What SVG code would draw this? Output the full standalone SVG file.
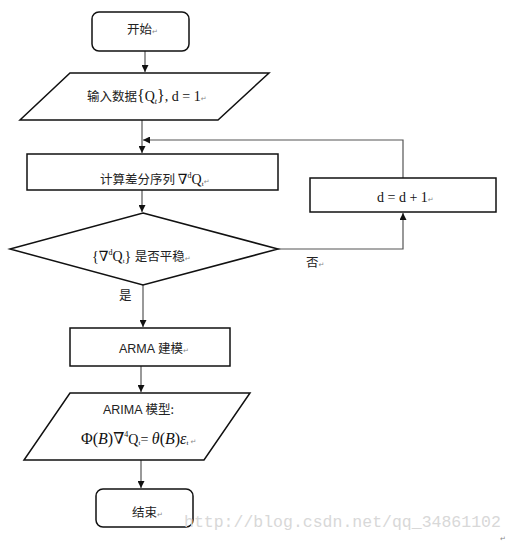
<svg xmlns="http://www.w3.org/2000/svg" width="515" height="545" viewBox="0 0 515 545">
<defs>
<style>
.box{fill:#fff;stroke:#111;stroke-width:1.5}
.con{fill:none;stroke:#555;stroke-width:1.2}
.cn{font-family:"Noto Sans CJK SC","Liberation Serif",serif;font-size:12.5px;fill:#222}
.m{font-family:"Liberation Serif","DejaVu Serif","Noto Sans CJK SC",serif;font-size:14px;fill:#111}
.s{font-family:"Liberation Sans","Noto Sans CJK SC",sans-serif;font-size:12.5px;fill:#222}
.sup{font-size:8px}
.sub{font-size:7px}
.big{font-size:16px}
.it{font-style:italic}
.rt{font-family:"DejaVu Sans",sans-serif;font-size:7px;fill:#888}
.wm{font-family:"Liberation Mono",monospace;font-size:16.5px;fill:#d8d8d8}
</style>
<marker id="ah" viewBox="0 0 10 10" refX="10" refY="5" markerWidth="7" markerHeight="7" markerUnits="userSpaceOnUse" orient="auto">
<path d="M0,0 L10,5 L0,10 z" fill="#111"/>
</marker>
</defs>

<g id="connectors">
<line class="con" x1="145" y1="51" x2="145" y2="72" marker-end="url(#ah)"/>
<line class="con" x1="142" y1="120" x2="142" y2="153" marker-end="url(#ah)"/>
<polyline class="con" points="403,178 403,140 143,140" marker-end="url(#ah)"/>
<line class="con" x1="142" y1="190" x2="142" y2="212" marker-end="url(#ah)"/>
<polyline class="con" points="278,249 403,249 403,213" marker-end="url(#ah)"/>
<line class="con" x1="143" y1="285" x2="143" y2="327" marker-end="url(#ah)"/>
<line class="con" x1="141" y1="366" x2="141" y2="392" marker-end="url(#ah)"/>
<line class="con" x1="141" y1="460" x2="141" y2="488" marker-end="url(#ah)"/>
<text class="cn" x="306" y="267">否<tspan class="rt">↵</tspan></text>
<text class="cn" x="119" y="300">是</text>
</g>

<g id="start">
<rect class="box" x="92" y="12" width="97" height="39" rx="7"/>
<text class="cn" x="127" y="34">开始<tspan class="rt">↵</tspan></text>
</g>

<g id="input">
<polygon class="box" points="70,73 269,73 218,120 20,120"/>
<text x="87" y="101"><tspan class="cn">输入数据</tspan><tspan class="m big">{</tspan><tspan class="m">Q</tspan><tspan class="m sup it" dy="3">t</tspan><tspan class="m big" dy="-3">}</tspan><tspan class="m">, d = 1</tspan><tspan class="rt">↵</tspan></text>
</g>

<g id="diff">
<rect class="box" x="27" y="154" width="251" height="36"/>
<text x="100" y="184"><tspan class="cn">计算差分序列 </tspan><tspan class="m">∇</tspan><tspan class="m sup" dy="-6">d</tspan><tspan class="m" dy="6">Q</tspan><tspan class="m sub" dy="2">t</tspan><tspan class="rt" dy="-2">↵</tspan></text>
</g>

<g id="check">
<polygon class="box" points="143,213 278,249 143,285 10,249"/>
<text x="92" y="261"><tspan class="m">{∇</tspan><tspan class="m sup" dy="-6">d</tspan><tspan class="m" dy="6">Q</tspan><tspan class="m sub" dy="2">t</tspan><tspan class="m" dy="-2">} </tspan><tspan class="cn">是否平稳</tspan><tspan class="rt">↵</tspan></text>
</g>

<g id="inc">
<rect class="box" x="310" y="178" width="186" height="34"/>
<text x="377" y="202"><tspan class="m">d = d + 1</tspan><tspan class="rt">↵</tspan></text>
</g>

<g id="arma">
<rect class="box" x="70" y="328" width="160" height="38"/>
<text x="119" y="353"><tspan class="s">ARMA </tspan><tspan class="cn">建模</tspan><tspan class="rt">↵</tspan></text>
</g>

<g id="arima">
<polygon class="box" points="70,393 250,393 204,460 24,460"/>
<text x="103" y="414"><tspan class="s">ARIMA </tspan><tspan class="cn">模型:</tspan></text>
<text x="81" y="444"><tspan class="m big">Φ(</tspan><tspan class="m big it">B</tspan><tspan class="m big">)∇</tspan><tspan class="m sup" dy="-7">4</tspan><tspan class="m" dy="7">Q</tspan><tspan class="m sub" dy="1">t</tspan><tspan class="m" dy="-1">= </tspan><tspan class="m big it">θ</tspan><tspan class="m big">(</tspan><tspan class="m big it">B</tspan><tspan class="m big">)</tspan><tspan class="m big it">ε</tspan><tspan class="m sub" dy="1">t</tspan><tspan class="rt" dy="-1"> ↵</tspan></text>
</g>

<g id="end">
<rect class="box" x="96" y="489" width="97" height="38" rx="7"/>
<text class="cn" x="132" y="517">结束<tspan class="rt">↵</tspan></text>
</g>

<text class="wm" x="184" y="527">http://blog.csdn.net/qq_34861102</text>
<text class="rt" x="500" y="541">↵</text>
</svg>
